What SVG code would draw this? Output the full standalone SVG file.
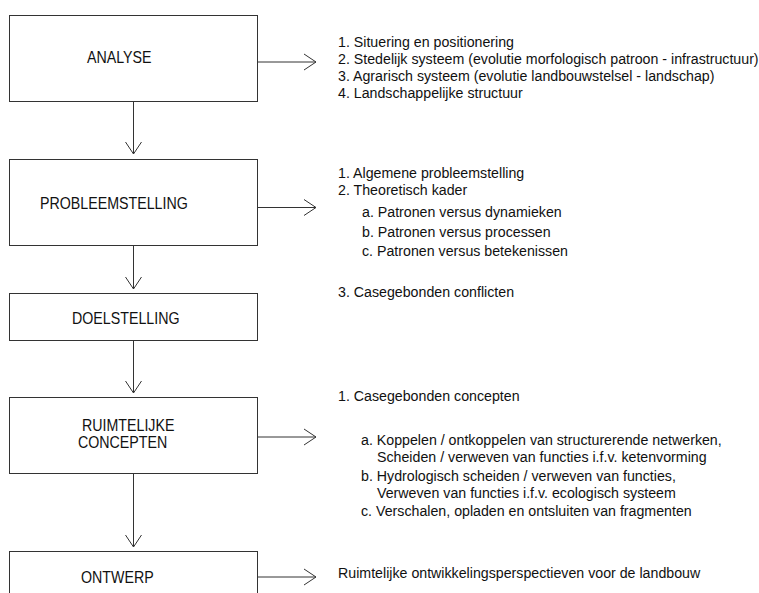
<svg xmlns="http://www.w3.org/2000/svg" width="759" height="593" viewBox="0 0 759 593">
<style>
  .box { fill: #fff; stroke: #333; stroke-width: 1; }
  .b { font-family: "Liberation Sans", Arial, sans-serif; font-size: 16px; fill: #111; }
  .t { font-family: "Liberation Sans", Arial, sans-serif; font-size: 14.5px; fill: #111; }
  .con { stroke: #333; stroke-width: 1; fill: none; }
</style>
<defs>
  <marker id="arr" markerUnits="userSpaceOnUse" markerWidth="16" markerHeight="20" viewBox="-13 -10 16 20" refX="0" refY="0" orient="auto">
    <path d="M-12,-8 L0,0 L-12,8" fill="none" stroke="#333" stroke-width="1"/>
  </marker>
</defs>
<rect width="759" height="593" fill="#fff"/>

<g id="connectors">
  <line class="con" x1="133.5" y1="101" x2="133.5" y2="154" marker-end="url(#arr)"/>
  <line class="con" x1="133.5" y1="245" x2="133.5" y2="289" marker-end="url(#arr)"/>
  <line class="con" x1="133.5" y1="340" x2="133.5" y2="393" marker-end="url(#arr)"/>
  <line class="con" x1="133.5" y1="473" x2="133.5" y2="547" marker-end="url(#arr)"/>
  <line class="con" x1="257" y1="62" x2="316" y2="62" marker-end="url(#arr)"/>
  <line class="con" x1="257" y1="207.5" x2="316" y2="207.5" marker-end="url(#arr)"/>
  <line class="con" x1="257" y1="437" x2="316" y2="437" marker-end="url(#arr)"/>
  <line class="con" x1="257" y1="577" x2="316" y2="577" marker-end="url(#arr)"/>
</g>

<g id="analyse">
  <rect class="box" x="9.5" y="15.5" width="248" height="86"/>
  <text class="b" transform="translate(87 63) scale(0.89 1)">ANALYSE</text>
</g>
<g id="probleemstelling">
  <rect class="box" x="9.5" y="159.5" width="248" height="86"/>
  <text class="b" transform="translate(40 209) scale(0.89 1)">PROBLEEMSTELLING</text>
</g>
<g id="doelstelling">
  <rect class="box" x="9.5" y="293.5" width="248" height="47"/>
  <text class="b" transform="translate(72 324) scale(0.89 1)">DOELSTELLING</text>
</g>
<g id="ruimtelijke-concepten">
  <rect class="box" x="9.5" y="397.5" width="248" height="76"/>
  <text class="b" transform="translate(82 431) scale(0.89 1)">RUIMTELIJKE</text>
  <text class="b" transform="translate(78 448) scale(0.89 1)">CONCEPTEN</text>
</g>
<g id="ontwerp">
  <rect class="box" x="9.5" y="551.5" width="248" height="60"/>
  <text class="b" transform="translate(81 583) scale(0.89 1)">ONTWERP</text>
</g>

<g id="analyse-list">
  <text class="t" transform="translate(338 47) scale(0.98 1)">1. Situering en positionering</text>
  <text class="t" transform="translate(338 64) scale(0.98 1)">2. Stedelijk systeem (evolutie morfologisch patroon - infrastructuur)</text>
  <text class="t" transform="translate(338 81) scale(0.98 1)">3. Agrarisch systeem (evolutie landbouwstelsel - landschap)</text>
  <text class="t" transform="translate(338 98) scale(0.98 1)">4. Landschappelijke structuur</text>
</g>
<g id="probleemstelling-list">
  <text class="t" transform="translate(338 178) scale(0.98 1)">1. Algemene probleemstelling</text>
  <text class="t" transform="translate(338 195) scale(0.98 1)">2. Theoretisch kader</text>
  <text class="t" transform="translate(362 217) scale(0.98 1)">a. Patronen versus dynamieken</text>
  <text class="t" transform="translate(362 236.5) scale(0.98 1)">b. Patronen versus processen</text>
  <text class="t" transform="translate(362 256) scale(0.98 1)">c. Patronen versus betekenissen</text>
  <text class="t" transform="translate(338 297) scale(0.98 1)">3. Casegebonden conflicten</text>
</g>
<g id="concepten-list">
  <text class="t" transform="translate(338 401) scale(0.98 1)">1. Casegebonden concepten</text>
  <text class="t" transform="translate(361 445) scale(0.98 1)">a. Koppelen / ontkoppelen van structurerende netwerken,</text>
  <text class="t" transform="translate(377 462) scale(0.98 1)">Scheiden / verweven van functies i.f.v. ketenvorming</text>
  <text class="t" transform="translate(361 481) scale(0.98 1)">b. Hydrologisch scheiden / verweven van functies,</text>
  <text class="t" transform="translate(377 498) scale(0.98 1)">Verweven van functies i.f.v. ecologisch systeem</text>
  <text class="t" transform="translate(361 516) scale(0.98 1)">c. Verschalen, opladen en ontsluiten van fragmenten</text>
</g>
<g id="ontwerp-list">
  <text class="t" transform="translate(338 578) scale(0.98 1)">Ruimtelijke ontwikkelingsperspectieven voor de landbouw</text>
</g>
</svg>
